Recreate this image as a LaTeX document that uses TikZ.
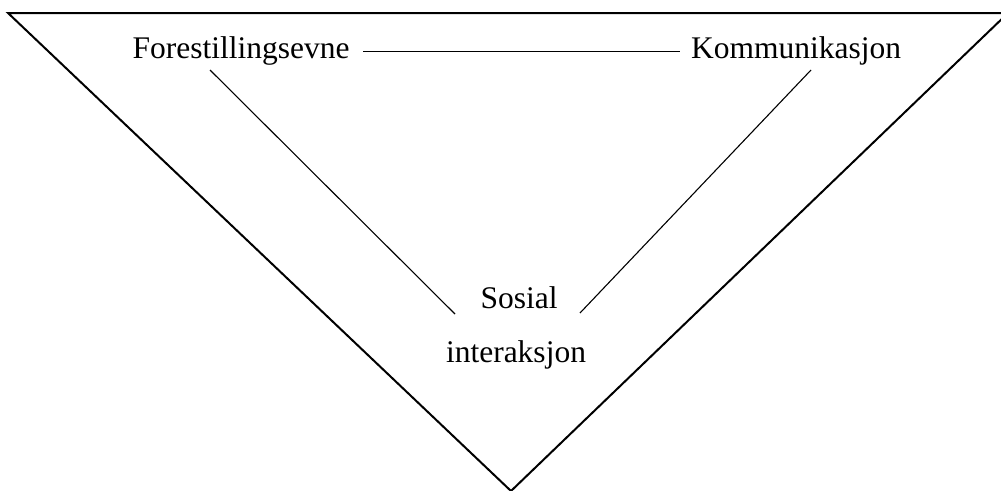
\documentclass[tikz,border=0pt]{standalone}
\usepackage{fontspec}
\setmainfont{Liberation Serif}
\begin{document}
\begin{tikzpicture}[x=1pt,y=-1pt,
  label/.style={font=\fontsize{31.5}{36}\selectfont, inner sep=0pt, anchor=base},
  frame/.style={line width=2pt, line join=miter},
  link/.style={line width=1.1pt}]
\useasboundingbox (0,0) rectangle (1001,490);
\begin{scope}
  \clip (0,0) rectangle (1001,490);
  \draw[frame] (8,13) -- (1008,13) -- (511,491) -- cycle;
\end{scope}
% labels
\node[label] (fore) at (241,58) {Forestillingsevne};
\node[label] (komm) at (796,58) {Kommunikasjon};
\node[label] (sos)  at (519,308) {Sosial};
\node[label] (inter) at (516,362) {interaksjon};
% connector end points
\coordinate (h1) at (363,51.5);
\coordinate (h2) at (680,51.5);
\coordinate (l1) at (210,70);
\coordinate (l2) at (455,314);
\coordinate (r1) at (811,70);
\coordinate (r2) at (580,313);
\draw[link] (h1) -- (h2);
\draw[link] (l1) -- (l2);
\draw[link] (r1) -- (r2);
\end{tikzpicture}
\end{document}
